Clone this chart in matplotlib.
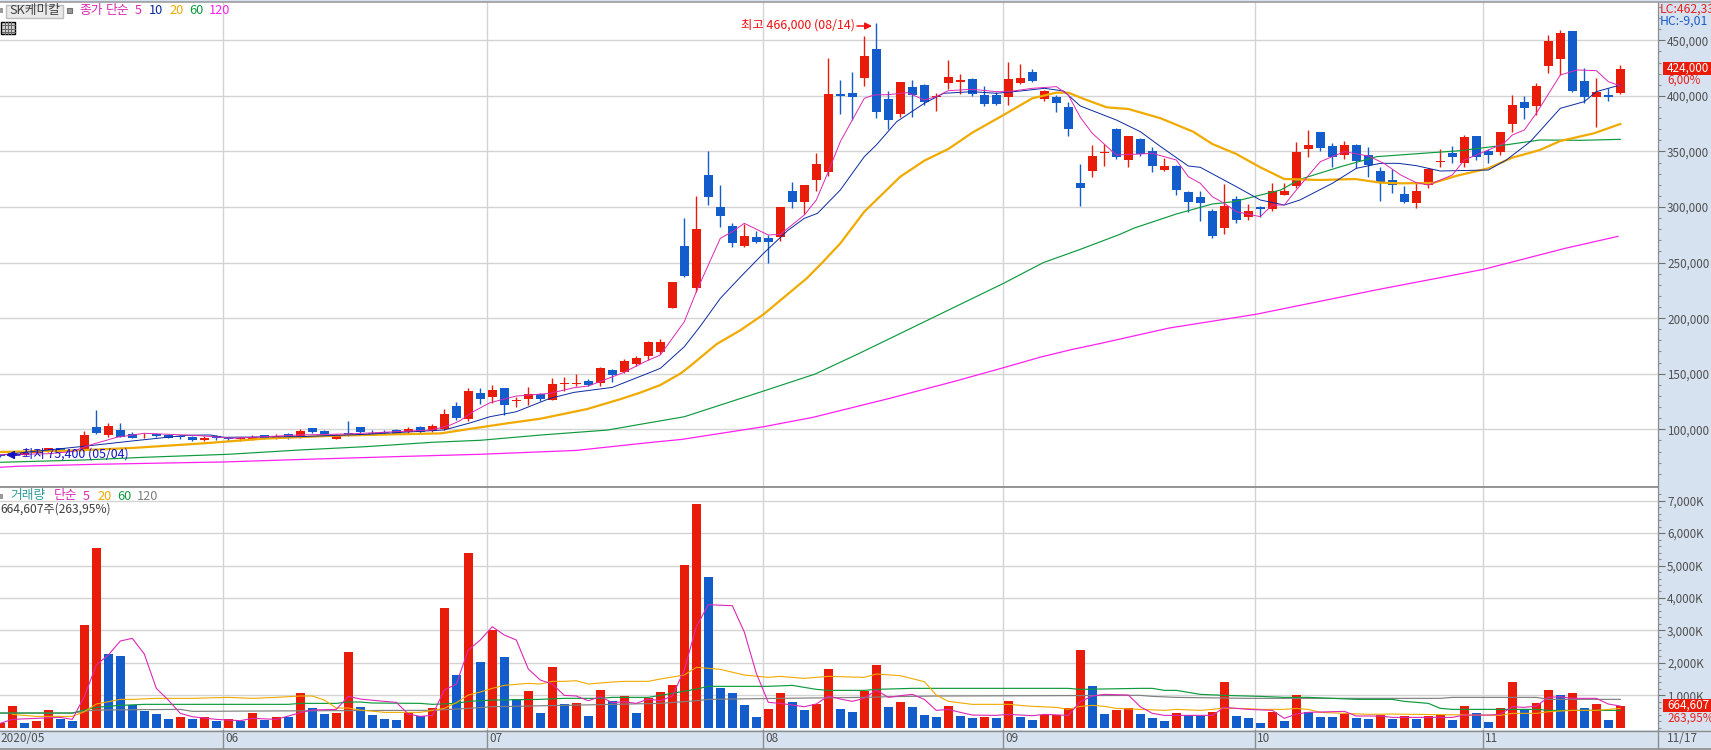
import matplotlib
matplotlib.use("Agg")
import matplotlib.pyplot as plt
from matplotlib.patches import Rectangle
from matplotlib.lines import Line2D
from matplotlib.transforms import Affine2D
from matplotlib.ticker import FixedLocator, FixedFormatter

plt.rcParams['font.family'] = ['Noto Sans CJK KR', 'DejaVu Sans']

# ---------- price candles (thousand won) ----------
price_open = [77.2,76.0,76.9,79.0,79.9,82.9,81.5,80.5,102.1,94.9,
 99.4,95.8,93.2,95.8,94.9,93.7,93.1,90.4,93.7,92.5,
 91.0,91.3,94.9,91.3,95.8,93.1,101.2,98.5,91.6,96.7,
 102.1,96.7,97.6,99.4,97.6,102.1,98.5,100.2,120.9,109.2,
 132.6,129.0,137.1,125.4,127.2,131.7,126.3,140.7,140.4,143.4,
 141.6,153.3,151.5,158.7,165.9,169.5,209.1,264.9,227.1,328.8,
 300.0,282.9,264.9,273.0,272.1,273.0,314.4,304.5,324.3,331.5,
 401.7,402.6,416.1,442.2,397.2,383.7,408.0,409.8,398.7,411.6,
 412.5,415.2,400.8,400.8,399.0,411.6,421.5,397.2,399.0,390.0,
 321.6,332.4,348.6,370.2,342.3,361.2,350.4,333.3,336.9,313.5,
 309.0,296.4,281.1,307.2,291.0,300.0,298.2,310.8,318.9,352.2,
 367.5,354.9,346.8,355.8,346.8,332.4,324.3,311.7,303.6,319.8,
 340.5,348.6,339.6,363.9,350.4,349.5,374.7,394.5,390.9,426.9,
 433.2,458.4,413.4,399.0,400.5,402.6]
price_close = [75.6,78.4,79.0,81.0,82.9,80.5,80.5,94.9,96.7,103.0,
 93.1,92.2,93.5,94.0,92.5,92.8,90.4,92.5,91.9,91.3,
 92.5,93.1,91.6,94.0,92.8,98.5,97.6,96.1,94.9,94.9,
 97.6,95.8,96.7,95.8,100.3,97.6,103.0,113.7,110.1,134.4,
 127.2,135.3,121.8,126.3,131.7,127.2,140.7,141.6,141.3,139.8,
 155.1,148.8,161.4,164.1,178.5,178.5,232.5,237.9,280.2,309.0,
 291.9,267.6,273.9,268.5,268.5,300.0,304.5,319.8,338.7,401.7,
 399.9,399.0,435.9,385.5,378.3,412.5,400.8,394.5,399.9,417.0,
 414.3,401.7,392.7,392.7,415.2,416.1,413.4,404.4,393.6,370.2,
 317.1,345.9,349.5,345.0,363.9,347.7,336.9,336.9,315.3,304.5,
 303.6,273.9,300.9,288.3,296.4,298.2,314.4,314.4,349.5,355.8,
 353.1,345.0,355.8,341.4,337.8,321.6,319.8,304.5,314.4,334.2,
 341.4,345.0,363.0,345.0,346.8,367.5,391.8,389.1,408.9,449.4,
 456.6,404.4,399.0,403.5,399.3,424.0]
price_high = [77.2,79.0,79.5,81.5,83.2,83.2,82.0,98.5,117.4,106.0,
 106.0,97.9,96.4,97.0,95.8,94.6,94.3,94.3,94.6,92.8,
 92.8,94.6,94.9,95.8,96.7,100.3,101.2,99.4,95.8,107.5,
 102.1,99.1,99.4,100.0,102.1,103.0,104.8,118.2,124.5,137.1,
 137.1,139.8,137.1,129.0,138.0,132.6,146.1,147.0,149.7,145.2,
 156.0,154.2,163.2,165.9,179.4,181.2,232.5,290.1,309.9,350.4,
 319.8,285.6,284.7,278.4,274.8,300.0,322.5,319.8,348.6,434.1,
 414.3,421.5,453.9,466.0,404.4,412.5,414.3,410.7,402.6,432.3,
 419.7,416.1,408.9,403.5,430.5,428.7,424.2,405.3,400.8,394.5,
 338.7,355.8,356.7,371.1,363.9,362.1,354.0,344.1,337.8,314.4,
 314.4,298.2,320.7,309.9,302.7,300.9,321.6,321.6,358.5,369.3,
 367.5,357.6,359.4,356.7,354.0,336.0,334.2,318.9,322.5,335.1,
 352.2,354.9,364.8,363.9,352.2,367.5,400.8,399.9,411.6,454.8,
 459.3,458.4,425.1,416.1,407.1,427.8]
price_low = [75.4,75.8,76.5,78.5,79.5,80.0,79.5,80.5,95.8,92.8,
 92.8,91.9,92.5,93.4,92.2,91.0,89.8,89.8,90.7,89.5,
 89.8,90.4,91.3,91.0,91.6,92.5,97.0,95.5,91.3,94.3,
 96.4,94.6,95.8,95.5,95.8,97.0,97.6,99.3,108.3,107.7,
 122.7,123.6,112.8,120.0,121.8,125.4,126.3,134.4,138.9,138.9,
 138.9,142.5,150.6,156.9,162.3,167.7,209.1,237.0,223.5,301.8,
 282.0,264.0,264.0,267.6,249.6,269.4,299.1,293.7,314.4,327.9,
 383.7,378.3,408.9,380.1,370.2,381.0,381.0,391.8,386.4,406.2,
 401.7,399.9,390.9,391.8,391.8,410.7,412.5,395.4,385.5,363.9,
 300.9,327.0,336.9,343.2,336.0,345.9,331.5,332.4,310.8,295.5,
 287.4,272.1,275.7,285.6,288.3,291.0,296.4,310.8,317.1,345.0,
 350.4,336.0,343.2,335.1,327.0,305.4,312.6,303.6,299.1,317.1,
 336.0,339.6,336.0,342.3,339.6,346.8,367.5,379.2,382.8,420.6,
 418.8,403.5,393.6,372.0,395.4,401.7]

# ---------- price moving averages: bar index / value ----------
ma5_x = [0,4,6,7.5,9.7,12,16.6,19.4,25,29,36,37.5,38.3,39.4,40.8,43,45.8,47.8,49,51.9,53.9,55,57,58,60,61,62,64,65,67,68,69,70,71,72,72.8,74,75.6,77,78,79,81,83,84,86,88,89,90,91,93,95,96,98,99,100,101,102,103,105,106,107,108,109.4,110,112,114,115.3,116.7,118,119,121,122,123,124,125.3,126,127,128,130,131.4,133,134,135]
ma5_y = [77,78,80,85.9,92.8,96.4,94.3,91.9,94.9,95.8,99.4,103.8,107.7,115.8,123.9,129.9,132.3,137.4,138.9,150.9,161.7,166.8,196.8,223.8,271.8,277.8,285.3,274.8,275.4,292.8,306.3,331.8,358.8,378.3,397.8,400.8,401.1,402.9,396.3,399.3,404.7,405.9,403.8,403.8,406.8,408.3,400.8,380.7,366.3,346.8,347.7,348.3,342.3,327.3,321.3,309.3,303.3,295.8,291.3,301.8,301.8,315.3,333.3,340.8,349.8,345.9,339.3,328.8,321.9,319.8,328.8,342.3,346.8,351.3,357.3,364.8,369.3,384.3,418.8,423.3,422.7,412.8,408.9]
ma10_x = [0,7.5,11,15.5,17.5,18.6,25,30.5,37,39.2,40.8,43,45.8,47.8,51,53.3,55,57,58.3,60,61.7,63.6,65.6,67,68.1,70,72,73,74.7,77,78.6,81,83,85.3,87,88.6,90,93,95,96.7,99,100,103,105,107,108.3,111,113,115,116.5,118,120,124,125.5,127.5,130,132,133,135]
ma10_y = [76.9,85.3,89.5,94.6,94.9,92.8,93.4,95.5,99.4,105.9,111.3,115.8,127.8,133.2,137.7,147.5,154.8,174.3,192.3,217.8,237.3,258.3,278.7,289.8,294.3,315.3,345.3,355.8,376.8,393.3,402.3,403.8,402.3,404.7,406.8,404.4,390.9,378.3,367.8,354.3,336.9,335.7,318.3,306.3,301.8,306.3,321.3,334.8,339.3,339.3,337.2,332.4,333.3,342.3,358.8,388.8,394.8,403.8,409.8]
ma20_x = [0,6,11,17,22,28,33,36.7,39.4,42.2,45,48.9,51.7,53.3,55,56.7,57.5,59.7,61.7,63.6,65,67.2,68.5,70,72,73,75,77,79,81,83.6,86,88,89,90.3,92.2,94,96.7,99.4,101,103,105,107,110,112.9,115,116.7,119.4,121.4,124,126,128.3,130,132.8,135]
ma20_y = [79.6,80.8,83.2,87.4,91.6,94.3,95.5,96.3,100.8,105.3,109.5,118.2,127.2,132.9,139.8,150.3,157,176.7,189.3,203.4,216,235.8,250,267.3,295.8,306.3,327.3,341.7,352.2,366.9,382.8,397.8,402.9,402.9,397.2,389.7,388.2,379.8,367.8,356.7,347.7,335.7,325.2,324.3,325.2,321.9,321.3,321.6,328.2,334.8,344.4,351.3,359.4,366.3,374.7]
ma60_x = [0,7,12,19,25,30.5,36,40,45,50.6,53.3,57,63.6,67.9,71.4,73.7,77.7,83.6,86.9,90,93.3,94.5,98,101,102.8,106.7,108.3,111.7,114.7,118.5,121.7,125,128.3,131.7,135]
ma60_y = [70.3,72.4,74.8,77.5,81.4,84.4,88.3,90.1,94.8,99.3,104.4,111.3,134.4,149.7,167.4,179.4,200.4,231.3,249.9,261.9,275.4,281.1,293.7,302.7,304.8,315.3,324.9,336.3,345.3,348.3,350.7,355.2,360.3,360.0,360.9]
ma120_x = [0,1.4,8,18.6,25.5,33,40,48,54.5,56.8,63.6,67.7,74.1,79.4,83.6,86.6,89.1,91.7,97.4,104.6,114.6,123.6,130.4,134.8]
ma120_y = [65.8,66.7,68.5,70.6,73.0,75.4,77.5,81,88.5,90.9,102.3,110.7,127.8,142.8,155.4,164.7,171.3,177.3,191.1,203.4,225.3,243.9,262.8,273.6]

# ---------- volume (thousand shares) ----------
volume = [134,668,144,205,545,267,205,3166,5541,2272,
 2210,699,514,421,267,329,267,329,205,267,
 205,452,236,329,329,1069,606,421,452,2333,
 637,390,267,236,452,360,606,3690,1624,5387,
 2025,3012,2179,884,1131,452,1871,730,761,360,
 1162,822,977,452,915,1100,1316,5017,6898,4646,
 1223,1069,699,329,576,1069,792,545,730,1809,
 576,483,1131,1933,637,792,637,390,329,668,
 360,298,329,298,822,329,236,390,400,606,
 2395,1285,421,545,606,421,298,205,452,390,
 360,483,1408,360,298,144,483,205,1007,483,
 329,329,421,298,267,390,267,360,267,360,
 390,236,668,452,175,606,1408,576,761,1162,
 1007,1069,606,730,236,665]

vma5_x = [0,1,3,5,6,7,8,9,10,11,12,13,14,15,16,18,20,21,23,25,26,28,29,30,32,33,34,35,36,37,38,39,40,41,42,43,44,45,46,47,48,49,50,51,52,53,54,55,56,57,58,59,61,62,63,64,65,66,67,68,69,70,71,72,73,74,75,76,77,78,79,80,81,83,84,86,87,89,90,91,92,94,95,96,97,99,101,102,104,106,107,108,109,110,112,113,115,116,119,121,122,124,125,126,127,128,129,130,131,133,134,135]
vma5_y = [134,257,288,318,257,956,1933,2241,2673,2755,2272,1213,853,442,339,257,216,288,257,463,545,565,966,884,812,781,421,349,380,1162,1347,2395,2704,3115,2858,2704,1809,1470,1347,997,977,832,956,771,802,750,884,832,977,1778,3115,3793,3762,2950,1676,781,750,699,647,730,977,884,812,905,1162,935,987,1028,874,534,565,473,390,380,411,370,411,380,802,977,1028,1007,647,442,380,380,380,627,565,534,288,421,473,483,504,360,360,318,318,318,390,390,411,647,627,668,935,956,905,905,730,668]
vma20_x = [1,3,6,7,8,9,10,11,13,16,19,21,23,25,26,27,28,29,30,32,35,37,38,39,40,41,42,43,44,45,46,47,48,49,51,52,54,55,57,58,59,60,62,64,65,67,69,72,73,75,77,78,79,81,84,86,88,89,90,91,92,93,95,97,98,100,101,102,104,105,107,108,109,110,112,114,116,118,125,126,128,129,131,133,135]
vma20_y = [411,349,349,493,730,802,874,874,905,905,935,905,935,977,977,853,606,606,545,473,473,596,771,1007,1100,1213,1305,1336,1367,1347,1429,1429,1449,1347,1408,1429,1429,1501,1624,1861,1830,1799,1624,1552,1583,1521,1583,1552,1655,1604,1419,1007,812,720,720,658,627,565,658,689,658,596,565,534,565,534,565,606,586,565,565,596,565,473,442,411,421,411,380,442,442,493,534,534,596]
vma60_x = [0,6,7,8,10,12,24,25,28,29,30,31,35,36,38,39,41,45,47,50,51,54,56,58,59,64,66,68,69,72,73,76,89,90,95,96,97,98,100,102,105,107,109,113,116,117,119,120,121,128,129,135]
vma60_y = [452,452,545,627,689,720,720,750,750,792,792,761,750,720,750,812,853,874,905,905,935,935,1059,1192,1275,1275,1305,1182,1151,1151,1182,1213,1213,1182,1213,1213,1151,1151,1028,997,966,935,935,874,874,812,750,596,565,565,534,534]
vma120_x = [0,6,7,8,15,16,33,36,39,41,47,55,58,59,65,72,74,78,95,96,98,104,113,120,121,128,129,135]
vma120_y = [452,452,504,545,565,504,534,534,596,647,689,750,832,874,905,935,956,977,997,966,935,905,905,905,935,935,874,874]

# ---------- axes content ----------
price_ticks = [100, 150, 200, 250, 300, 350, 400, 450]
price_labels = ['100,000','150,000','200,000','250,000','300,000','350,000','400,000','450,000']
volume_ticks = [1000, 2000, 3000, 4000, 5000, 6000, 7000]
volume_labels = ['1,000K','2,000K','3,000K','4,000K','5,000K','6,000K','7,000K']
month_index = [19, 41, 64, 84, 105, 124]
month_labels = ['06', '07', '08', '09', '10', '11']

RED = '#E91C0A'
BLUE = '#125CCB'
GRID = '#D4D4D4'
BAND = '#D6E2F0'
PINK = '#DC28B4'
NAVY = '#0A2AA0'
ORANGE = '#F0AA00'
GREEN = '#0E9A3E'
FUCHSIA = '#FF20F0'
GRAY = '#808080'

W, H = 1711, 750
fig = plt.figure(figsize=(W/100, H/100), dpi=100, facecolor=BAND)
px = Affine2D().scale(1/W, -1/H).translate(0, 1) + fig.transFigure

def make_axes(left, top, right, bottom):
    return fig.add_axes([left/W, 1-bottom/H, (right-left)/W, (bottom-top)/H], facecolor='white')

ax = make_axes(0, 2, 1658, 486)
av = make_axes(0, 487, 1658, 730)
xlim = (-0.025, 138.14)

for a in (ax, av):
    a.set_xlim(*xlim)
    for s in ('top', 'left', 'bottom'):
        a.spines[s].set_visible(False)
    a.spines['right'].set_color('#8C8C8C')
    a.spines['right'].set_linewidth(0.9)
    a.yaxis.tick_right()
    a.set_xticks([])
    a.set_axisbelow(True)
    for m in month_index:
        a.axvline(m-0.417, color=GRID, lw=1.0, zorder=0)
ax.set_ylim(48.97, 484.46)
av.set_ylim(-71, 7422)

def style_y(a, ticks, labels, minor):
    a.yaxis.set_major_locator(FixedLocator(ticks))
    a.yaxis.set_major_formatter(FixedFormatter(labels))
    a.yaxis.set_minor_locator(FixedLocator(minor))
    a.tick_params(axis='y', which='major', direction='out', length=5, width=0.8,
                  color='#707070', labelcolor='#505050', labelsize=8.4, pad=1.5)
    a.tick_params(axis='y', which='minor', direction='out', length=2.5, width=0.8, color='#909090')
    a.grid(axis='y', which='major', color=GRID, lw=1.0, zorder=0)

style_y(ax, price_ticks, price_labels, [v*10 for v in range(6, 49)])
style_y(av, volume_ticks, volume_labels, [v*200 for v in range(0, 37)])

# candles
for i, (o, h, l, c) in enumerate(zip(price_open, price_high, price_low, price_close)):
    col = RED if c >= o else BLUE
    ax.vlines(i, l, h, color=col, lw=1.0, zorder=2)
    ax.bar(i, abs(c-o), bottom=min(o, c), width=0.75, color=col, lw=0, zorder=3)

ax.plot(ma120_x, ma120_y, color=FUCHSIA, lw=0.9, zorder=4)
ax.plot(ma60_x, ma60_y, color=GREEN, lw=0.85, zorder=4)
ax.plot(ma20_x, ma20_y, color=ORANGE, lw=1.6, zorder=4)
ax.plot(ma10_x, ma10_y, color=NAVY, lw=0.7, zorder=5)
ax.plot(ma5_x, ma5_y, color=PINK, lw=0.7, zorder=5)

# volume bars: red when volume rose from the previous day
for i, v in enumerate(volume):
    col = RED if (i == 0 or v > volume[i-1]) else BLUE
    av.bar(i, v, width=0.75, color=col, lw=0, zorder=2)
av.plot(vma120_x, vma120_y, color=GRAY, lw=0.85, zorder=4)
av.plot(vma60_x, vma60_y, color=GREEN, lw=0.85, zorder=4)
av.plot(vma20_x, vma20_y, color=ORANGE, lw=0.8, zorder=4)
av.plot(vma5_x, vma5_y, color=PINK, lw=0.8, zorder=5)

# frame lines
def hline(y, x0, x1, color, lw=1.0):
    fig.add_artist(Line2D([x0, x1], [y, y], transform=px, color=color, lw=lw))
hline(1.5, 0, W, '#969696', 1.1)
hline(486.5, 0, 1658, '#8C8C8C', 1.3)
hline(730.5, 0, W, '#8C8C8C', 1.0)
hline(748.5, 0, W, '#8C8C8C', 1.2)

def txt(x, y, s, color='#505050', size=8.5, ha='left', va='center', **kw):
    return fig.text(x, y, s, transform=px, color=color, fontsize=size, ha=ha, va=va, **kw)

# date band
for m, lab in zip(month_index, month_labels):
    xp = (m-0.417)*12 + 0.3
    fig.add_artist(Line2D([xp, xp], [730, 748], transform=px, color='#8C8C8C', lw=1.0))
    txt(xp+2, 739, lab)
fig.add_artist(Line2D([1658.5, 1658.5], [730, 748], transform=px, color='#8C8C8C', lw=1.0))
txt(0, 739, '2020/05')
txt(1667, 739, '11/17')

# top legend
def rect(x, y, w, h, fc, ec='none', lw=0.8):
    fig.add_artist(Rectangle((x, y), w, h, transform=px, facecolor=fc, edgecolor=ec, lw=lw))

rect(0, 8, 3.5, 5, '#9A9A9A')
rect(6.5, 4.5, 57, 13, '#E9E9E9', '#BDBDBD', 1.0)
txt(35, 10.5, 'SK케미칼', color='#404040', size=9.2, ha='center')
rect(67, 7.5, 5, 5, '#9A9A9A', '#707070')
for x, s, c in [(79, '종가', PINK), (106, '단순', PINK), (135, '5', PINK), (149, '10', NAVY),
                (169, '20', ORANGE), (189, '60', GREEN), (209, '120', FUCHSIA)]:
    txt(x, 10.5, s, color=c, size=9.2)
rect(1.5, 21.5, 13.5, 12.5, '#D0D0D0', 'black', 1.0)
for xx in (5.5, 8.5, 11.5):
    fig.add_artist(Line2D([xx, xx], [22, 34], transform=px, color='#666666', lw=0.7))
for yy in (25, 28.5, 31.5):
    fig.add_artist(Line2D([2, 15], [yy, yy], transform=px, color='#666666', lw=0.7))

# high / low annotations
txt(741, 25.5, '최고 466,000 (08/14)', color='#F01010', size=8.9)
ax.annotate('', xy=(872, 26), xycoords=px, xytext=(857, 26), textcoords=px,
            arrowprops=dict(arrowstyle='-|>', color='#F01010', lw=1.1, mutation_scale=10, shrinkA=0, shrinkB=0), zorder=7)
txt(22, 454, '최저 75,400 (05/04)', color='#1212C8', size=8.9)
ax.annotate('', xy=(6, 455), xycoords=px, xytext=(20, 455), textcoords=px,
            arrowprops=dict(arrowstyle='-|>', color='#1212C8', lw=1.1, mutation_scale=12, shrinkA=0, shrinkB=0), zorder=7)

# right band, price
txt(1660, 9, 'LC:462,33', color='#E8201A', size=8.8)
txt(1660, 21, 'HC:-9,01', color='#1A5CC8', size=8.8)
rect(1663, 62, 48, 13, RED)
txt(1667, 68.5, '424,000', color='white', size=8.4)
txt(1667, 80.5, '6,00%', color='#E8201A', size=8.4)

# volume legend
rect(0, 493.5, 3.5, 5, '#9A9A9A')
for x, s, c in [(10, '거래량', '#2E9C9C'), (54, '단순', PINK), (83, '5', PINK),
                (97, '20', ORANGE), (117, '60', GREEN), (137, '120', GRAY)]:
    txt(x, 496, s, color=c, size=9.2)
txt(0, 509.5, '664,607주(263,95%)', color='#404040', size=8.7)

# right band, volume
rect(1663, 699, 48, 13, RED)
txt(1667, 705.5, '664,607', color='white', size=8.4)
txt(1667, 718, '263,95%', color='#E8201A', size=8.4)

fig.savefig('out.png', dpi=100, facecolor=fig.get_facecolor())
